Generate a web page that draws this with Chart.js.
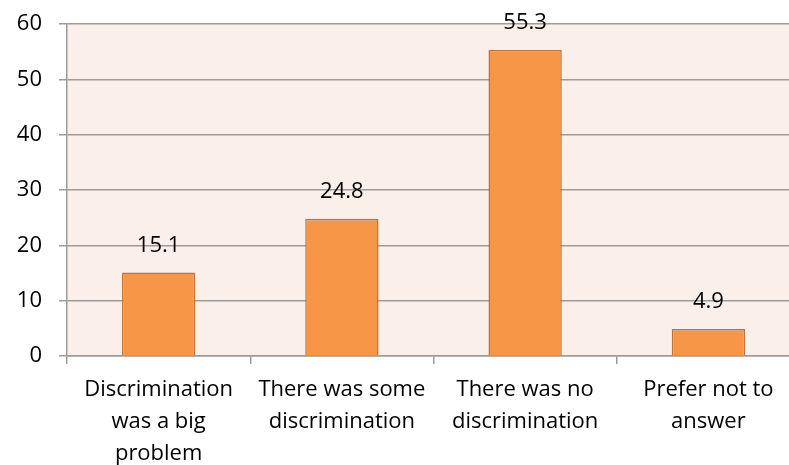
<!DOCTYPE html>
<html>
<head>
<meta charset="utf-8">
<script src="https://cdn.jsdelivr.net/npm/chart.js@4"></script>
<style>
  html, body { margin: 0; padding: 0; background: #fff; overflow: hidden; }
  #wrap { width: 800px; height: 465px; }
</style>
</head>
<body>
<div id="wrap"><canvas id="myChart"></canvas></div>
<script>
// chart values
const categories = [
    ['Discrimination', 'was a big', 'problem'],
    ['There was some', 'discrimination'],
    ['There was no', 'discrimination'],
    ['Prefer not to', 'answer']
];
const values = [15.1, 24.8, 55.3, 4.9];
const yTicks = [0, 10, 20, 30, 40, 50, 60];

const fontFamily = '"Open Sans", sans-serif';
const gridColor = '#9c9c9c';

// paints the plot area background
const plotBackground = {
    id: 'plotBackground',
    beforeDraw(chart) {
        const { ctx, chartArea: a } = chart;
        ctx.save();
        ctx.fillStyle = '#fbefea';
        ctx.fillRect(a.left, a.top, a.right - a.left, a.bottom - a.top);
        ctx.restore();
    }
};

// value labels above each bar
const valueLabels = {
    id: 'valueLabels',
    afterDatasetsDraw(chart) {
        const { ctx } = chart;
        const meta = chart.getDatasetMeta(0);
        ctx.save();
        ctx.font = '22px ' + fontFamily;
        ctx.fillStyle = '#000';
        ctx.textAlign = 'center';
        ctx.textBaseline = 'middle';
        meta.data.forEach((bar, i) => {
            ctx.fillText(values[i].toFixed(1), bar.x, bar.y - 27);
        });
        ctx.restore();
    }
};

function init() {
    const data = {
        labels: categories,
        datasets: [{
            data: values,
            backgroundColor: '#f79646',
            borderColor: '#c2733a',
            borderWidth: 1.5,
            barPercentage: 0.4,
            categoryPercentage: 1
        }]
    };

    const config = {
        type: 'bar',
        data: data,
        options: {
            responsive: true,
            maintainAspectRatio: false,
            animation: false,
            layout: { padding: { top: 24, right: 0, left: 0, bottom: 0 } },
            plugins: { legend: { display: false }, tooltip: { enabled: false } },
            scales: {
                x: {
                    afterFit(scale) { scale.height = 109; },
                    grid: { drawOnChartArea: false, drawTicks: true, tickLength: 8, color: gridColor, lineWidth: 1.5 },
                    border: { color: gridColor, width: 1.5 },
                    ticks: {
                        color: '#000',
                        padding: 10,
                        font: { family: fontFamily, size: 22, lineHeight: 1.45 },
                        maxRotation: 0,
                        autoSkip: false
                    }
                },
                y: {
                    min: 0,
                    max: 60,
                    afterFit(scale) {
                        scale.width = 67;
                        scale.paddingTop = 0;
                        scale.paddingBottom = 0;
                    },
                    afterBuildTicks(scale) { scale.ticks = yTicks.map(v => ({ value: v })); },
                    grid: { color: gridColor, lineWidth: 1.5, tickLength: 8 },
                    border: { color: gridColor, width: 1.5 },
                    ticks: {
                        color: '#000',
                        padding: 17,
                        font: { family: fontFamily, size: 22 }
                    }
                }
            }
        },
        plugins: [plotBackground, valueLabels]
    };

    new Chart(document.getElementById('myChart'), config);
}

window.onload = init;
</script>
</body>
</html>
